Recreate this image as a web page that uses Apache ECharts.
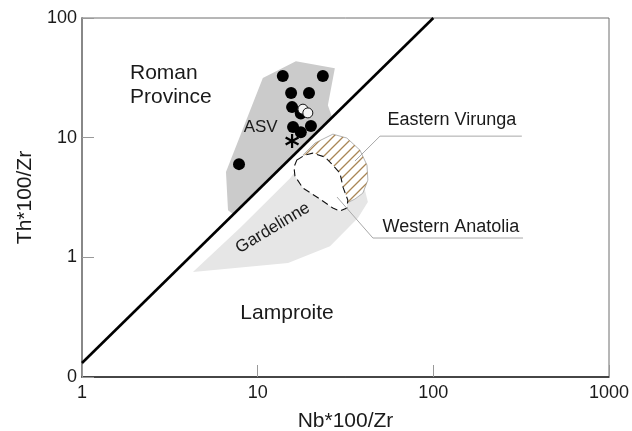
<!DOCTYPE html>
<html>
<head>
<meta charset="utf-8">
<script src="https://cdn.jsdelivr.net/npm/echarts@6/dist/echarts.min.js"></script>
<style>
  html, body { margin: 0; padding: 0; background: #fff; }
  #chart { width: 632px; height: 431px; }
</style>
</head>
<body>
<div id="chart"></div>
<script>
// Axis ticks (log scales)
const xTickValues = [1, 10, 100, 1000];
const xTickLabels = ['1', '10', '100', '1000'];
const yTickValues = [0.1, 1, 10, 100];
const yTickLabels = ['0', '1', '10', '100'];

// Field outlines (Nb*100/Zr, Th*100/Zr)
const asvField = [[6.78, 2.48], [6.6, 5.16], [10.7, 31.5], [16.5, 43.6], [27.5, 38.1], [25.1, 18.7], [26.5, 14.9], [7.23, 2.30]];
const gardelinneField = [[4.28, 0.753], [7.93, 1.76], [15.3, 4.59], [17.4, 5.90], [29.4, 5.36], [40.8, 3.65], [42.4, 2.90], [37.2, 2.13], [25.8, 1.24], [14.9, 0.895]];
const easternVirungaField = [[18.1, 7.16], [21.2, 9.02], [26.8, 10.7], [32.2, 9.93], [38.2, 7.87], [41.9, 5.90], [42.4, 4.42], [39.7, 3.44], [35.8, 3.07], [32.2, 2.84], [29.4, 4.42], [22.6, 6.50]];
const westernAnatoliaField = [[16.7, 6.50], [18.6, 7.16], [20.6, 7.43], [24.2, 6.88], [26.8, 5.90], [29.4, 5.06], [30.6, 3.86], [32.6, 3.01], [32.2, 2.58], [29.4, 2.44], [26.8, 2.58], [22.6, 3.07], [18.1, 3.79], [16.3, 4.78], [16.1, 5.68]];

// Roman Province / Lamproite divide
const dividingLine = [[1, 0.131], [100, 100]];

// Leader lines for the field names
const virungaLeader = [[319, 10.3], [49.7, 10.3], [35.8, 6.38]];
const anatoliaLeader = [[324, 1.45], [45.3, 1.45], [28.3, 3.19]];

// ASV samples
const asvSamples = [[13.9, 32.7], [23.5, 32.7], [15.5, 23.6], [19.6, 23.6], [15.7, 18.0], [17.6, 15.9], [15.9, 12.3], [17.6, 11.1], [20.1, 12.5], [7.83, 6.01]];
const asvOpenSamples = [[18.1, 17.3], [19.3, 16.1]];
const asvStarSample = [[15.7, 9.38]];

// Field names
const fieldNames = ['Roman\nProvince', 'ASV', 'Gardelinne', 'Lamproite', 'Eastern Virunga', 'Western Anatolia'];
const fieldNamePoints = [[1.876, 27.5], [10.4, 12.3], [12.2, 1.76], [14.7, 0.343], [127.6, 14.0], [126, 1.79]];

const FONT = '"Liberation Sans", Arial, Helvetica, sans-serif';

// diagonal hatch tile
const hatch = document.createElement('canvas');
hatch.width = 10; hatch.height = 10;
(function () {
  const g = hatch.getContext('2d');
  g.strokeStyle = '#a98656';
  g.lineWidth = 1.3;
  g.beginPath();
  g.moveTo(0, 10); g.lineTo(10, 0);
  g.moveTo(-2, 2); g.lineTo(2, -2);
  g.moveTo(8, 12); g.lineTo(12, 8);
  g.stroke();
})();

function pickLabel(values, labels, v) {
  let best = 0, bd = Infinity;
  values.forEach((t, i) => {
    const d = Math.abs(Math.log10(t) - Math.log10(v));
    if (d < bd) { bd = d; best = i; }
  });
  return labels[best];
}

function polygonSeries(points, style, z) {
  return {
    type: 'custom',
    coordinateSystem: 'cartesian2d',
    data: points,
    z: z,
    silent: true,
    renderItem: function (params, api) {
      if (params.dataIndex !== 0) return null;
      return {
        type: 'polygon',
        shape: { points: points.map(p => api.coord(p)) },
        style: Object.assign({}, style)
      };
    }
  };
}

function lineSeries(points, color, width, z) {
  return {
    type: 'line',
    data: points,
    z: z,
    silent: true,
    symbol: 'none',
    lineStyle: { color: color, width: width },
    animation: false
  };
}

const labelStyles = [
  { fontSize: 21, align: 'left', rotate: 0, lineHeight: 24 },
  { fontSize: 17, align: 'center', rotate: 0 },
  { fontSize: 17, align: 'center', rotate: 31 },
  { fontSize: 21, align: 'center', rotate: 0 },
  { fontSize: 18, align: 'center', rotate: 0 },
  { fontSize: 18, align: 'center', rotate: 0 }
];

const starPath = 'path://M8.5,0 L11.5,0 L11.5,20 L8.5,20 Z M0.59,6.3 L2.09,3.7 L19.41,13.7 L17.91,16.3 Z M17.91,3.7 L19.41,6.3 L2.09,16.3 L0.59,13.7 Z';

const chart = echarts.init(document.getElementById('chart'), null, { renderer: 'canvas' });

chart.setOption({
  animation: false,
  backgroundColor: '#fff',
  grid: {
    left: 82, right: 23, top: 18, bottom: 54,
    outerBoundsMode: 'none', containLabel: false,
    show: true, borderColor: '#6e6e6e', borderWidth: 1
  },
  xAxis: {
    type: 'log', logBase: 10, min: 1, max: 1000,
    name: 'Nb*100/Zr', nameLocation: 'middle', nameGap: 34,
    nameTextStyle: { fontSize: 21, color: '#1a1a1a', fontFamily: FONT },
    axisLine: { lineStyle: { color: '#222', width: 1.5 } },
    axisTick: { inside: true, length: 12, lineStyle: { color: '#999', width: 1 } },
    minorTick: { show: false },
    splitLine: { show: false },
    axisLabel: {
      fontSize: 18, color: '#1a1a1a', fontFamily: FONT, margin: 7,
      formatter: v => pickLabel(xTickValues, xTickLabels, v)
    }
  },
  yAxis: {
    type: 'log', logBase: 10, min: 0.1, max: 100,
    name: 'Th*100/Zr', nameLocation: 'middle', nameGap: 46,
    nameTextStyle: { fontSize: 21, color: '#1a1a1a', fontFamily: FONT },
    axisLine: { lineStyle: { color: '#888', width: 2 } },
    axisTick: { inside: true, length: 12, lineStyle: { color: '#999', width: 1 } },
    minorTick: { show: false },
    splitLine: { show: false },
    axisLabel: {
      fontSize: 18, color: '#1a1a1a', fontFamily: FONT, margin: 5,
      formatter: v => pickLabel(yTickValues, yTickLabels, v)
    }
  },
  series: [
    polygonSeries(gardelinneField, { fill: '#e6e6e6' }, 1),
    polygonSeries(asvField, { fill: '#cbcbcb' }, 2),
    polygonSeries(easternVirungaField, { fill: '#ffffff', stroke: '#b5b5b5', lineWidth: 1 }, 3),
    polygonSeries(easternVirungaField, { fill: { image: hatch, repeat: 'repeat' } }, 4),
    polygonSeries(westernAnatoliaField, { fill: '#ffffff', stroke: '#111', lineWidth: 1.1, lineDash: [7, 4] }, 5),
    lineSeries(dividingLine, '#000', 2.6, 6),
    lineSeries(virungaLeader, '#a8a8a8', 1, 7),
    lineSeries(anatoliaLeader, '#a8a8a8', 1, 7),
    {
      type: 'scatter', data: asvSamples, z: 8, silent: true,
      symbol: 'circle', symbolSize: 12,
      itemStyle: { color: '#000', opacity: 1 }
    },
    {
      type: 'scatter', data: asvOpenSamples, z: 9, silent: true,
      symbol: 'circle', symbolSize: 10,
      itemStyle: { color: '#f4f4f4', borderColor: '#111', borderWidth: 1, opacity: 1 }
    },
    {
      type: 'scatter', data: asvStarSample, z: 9, silent: true,
      symbol: starPath, symbolSize: 14,
      itemStyle: { color: '#000', opacity: 1 }
    },
    {
      type: 'custom',
      coordinateSystem: 'cartesian2d',
      data: fieldNamePoints,
      z: 10,
      silent: true,
      renderItem: function (params, api) {
        const i = params.dataIndex;
        const p = api.coord(fieldNamePoints[i]);
        const s = labelStyles[i];
        return {
          type: 'text',
          x: p[0], y: p[1],
          rotation: s.rotate * Math.PI / 180,
          style: {
            text: fieldNames[i],
            fontSize: s.fontSize,
            fontFamily: FONT,
            fill: '#1a1a1a',
            align: s.align,
            verticalAlign: 'middle',
            lineHeight: s.lineHeight || s.fontSize * 1.2
          }
        };
      }
    }
  ]
});
</script>
</body>
</html>
